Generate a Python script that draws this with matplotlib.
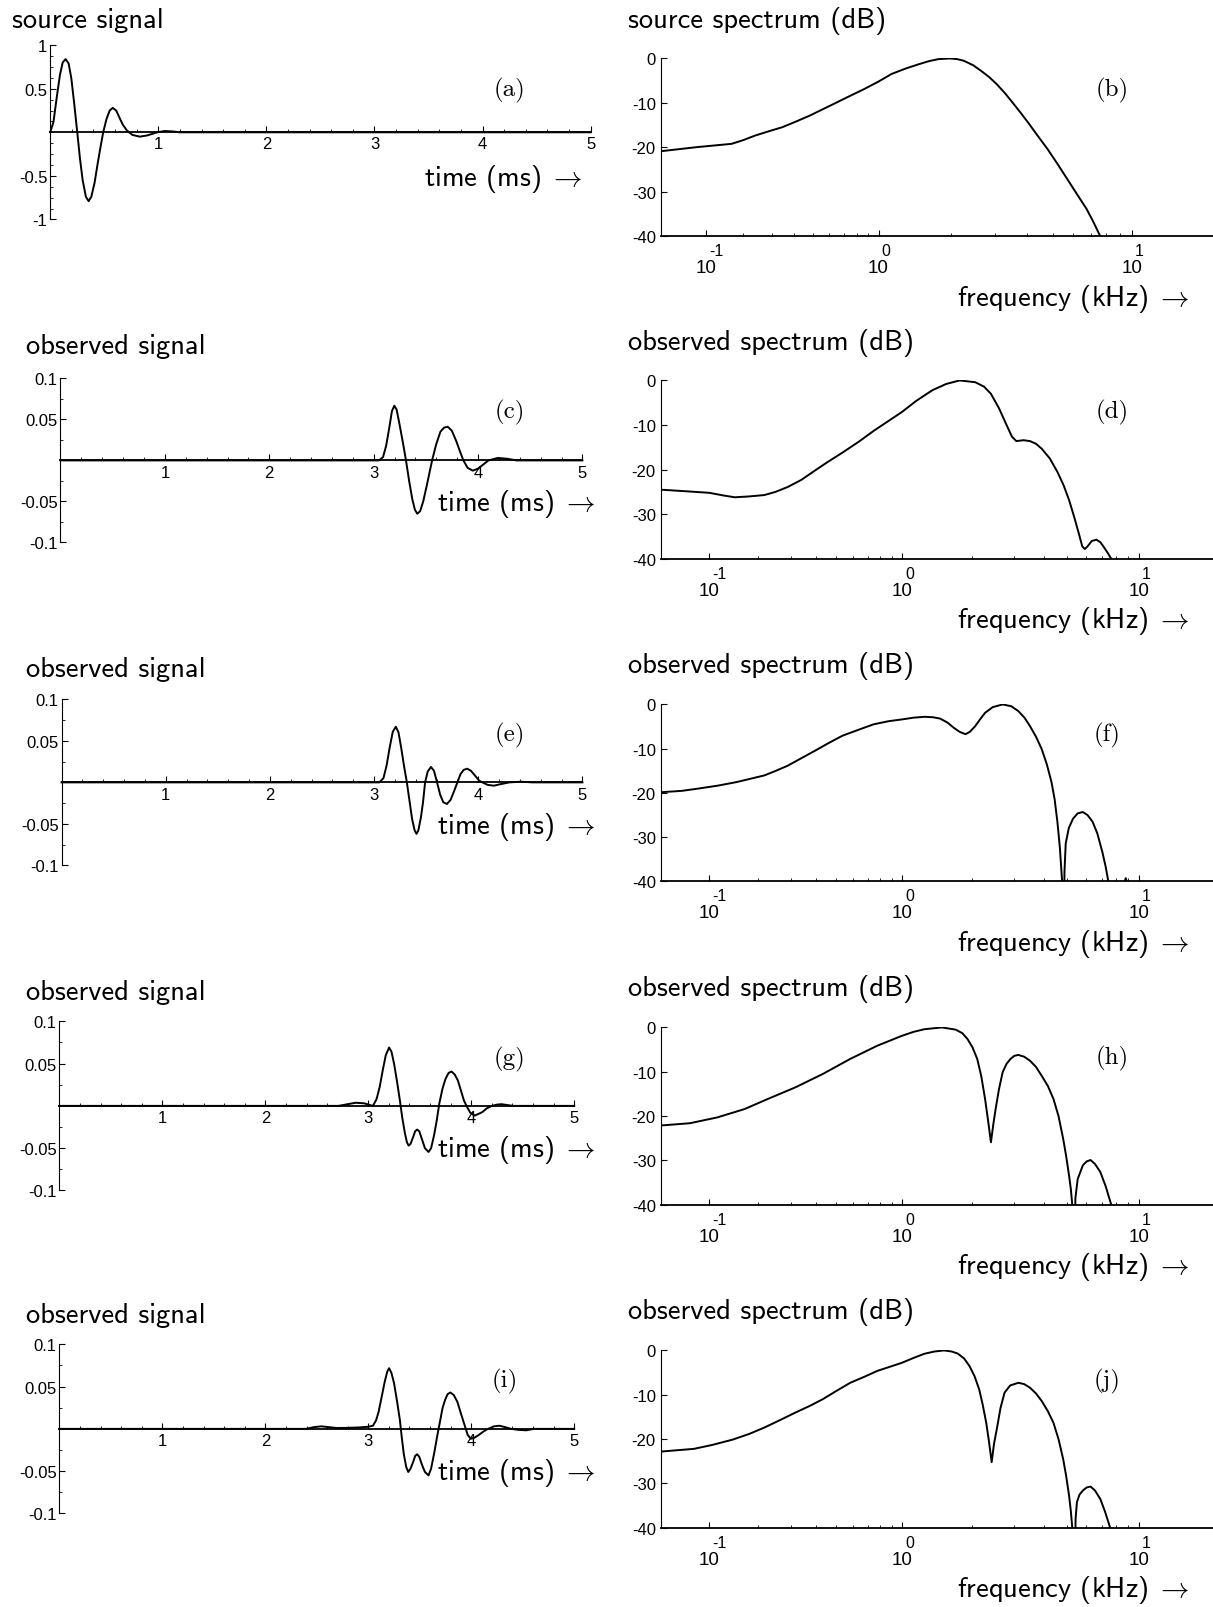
import numpy as np
import matplotlib.pyplot as plt
from matplotlib.ticker import MultipleLocator, FixedLocator

plt.rcParams['axes.unicode_minus'] = False
plt.rcParams['mathtext.fontset'] = 'cm'

# ── time signals (ms, amplitude) ───────────────────────
sig_a_t = [0, 0.03, 0.06, 0.09, 0.115, 0.142, 0.17, 0.195, 0.22, 0.25, 0.275, 0.30, 0.33,
           0.355, 0.38, 0.41, 0.44, 0.465, 0.49, 0.52, 0.55, 0.578, 0.61, 0.64, 0.67, 0.71,
           0.76, 0.83, 0.90, 0.99, 1.06, 1.13, 1.2, 5.0]
sig_a_v = [0, 0.12, 0.40, 0.66, 0.80, 0.84, 0.79, 0.62, 0.35, 0.0, -0.30, -0.55, -0.74,
           -0.79, -0.74, -0.58, -0.35, -0.17, 0.0, 0.15, 0.25, 0.28, 0.25, 0.17, 0.09, 0.02,
           -0.03, -0.05, -0.035, 0.0, 0.015, 0.01, 0, 0]

sig_c_t = [0, 3.05, 3.09, 3.12, 3.15, 3.175, 3.198, 3.22, 3.245, 3.28, 3.31, 3.34, 3.37,
           3.395, 3.418, 3.445, 3.475, 3.51, 3.56, 3.60, 3.64, 3.675, 3.711, 3.75, 3.79,
           3.83, 3.86, 3.90, 3.95, 4.0, 4.05, 4.1, 4.19, 4.28, 4.37, 5.0]
sig_c_v = [0, 0, 0.004, 0.018, 0.040, 0.060, 0.0667, 0.062, 0.046, 0.022, 0.0, -0.025, -0.047,
           -0.060, -0.065, -0.062, -0.050, -0.030, 0.0, 0.020, 0.035, 0.040, 0.041, 0.036, 0.024,
           0.010, 0.0, -0.009, -0.0125, -0.010, -0.005, 0.0, 0.003, 0.002, 0, 0]

sig_e_t = [0, 3.05, 3.09, 3.12, 3.15, 3.18, 3.209, 3.235, 3.26, 3.29, 3.315, 3.34, 3.365,
           3.39, 3.407, 3.425, 3.45, 3.47, 3.49, 3.515, 3.546, 3.575, 3.605, 3.635, 3.665,
           3.70, 3.735, 3.77, 3.80, 3.83, 3.86, 3.894, 3.93, 3.97, 4.01, 4.04, 4.09, 4.15,
           4.22, 4.3, 4.41, 4.52, 5.0]
sig_e_v = [0, 0, 0.005, 0.020, 0.042, 0.061, 0.067, 0.060, 0.042, 0.018, 0.0, -0.022, -0.044,
           -0.058, -0.062, -0.058, -0.042, -0.024, 0.0, 0.013, 0.0186, 0.014, 0.0, -0.015, -0.024,
           -0.026, -0.021, -0.010, 0.0, 0.010, 0.015, 0.0165, 0.014, 0.008, 0.002, 0.0, -0.003, -0.004,
           -0.002, 0.0, 0.0008, 0, 0]

sig_g_t = [0, 2.71, 2.80, 2.878, 2.96, 3.045, 3.08, 3.11, 3.14, 3.17, 3.202, 3.225, 3.25,
           3.28, 3.306, 3.33, 3.355, 3.375, 3.392, 3.41, 3.435, 3.455, 3.474, 3.495, 3.52,
           3.55, 3.585, 3.61, 3.64, 3.665, 3.69, 3.72, 3.75, 3.78, 3.809, 3.84, 3.87, 3.90,
           3.93, 3.958, 3.99, 4.032, 4.07, 4.107, 4.15, 4.2, 4.25, 4.293, 4.35, 4.405, 5.0]
sig_g_v = [0, 0, 0.002, 0.0037, 0.003, 0.0, 0.008, 0.022, 0.042, 0.060, 0.069, 0.064, 0.050,
           0.028, 0.007, -0.014, -0.032, -0.043, -0.047, -0.045, -0.037, -0.030, -0.028, -0.030, -0.039,
           -0.050, -0.0545, -0.050, -0.034, -0.017, 0.003, 0.020, 0.032, 0.039, 0.0406, 0.037, 0.030, 0.018,
           0.006, -0.001, -0.008, -0.0115, -0.0095, -0.0074, -0.003, 0.0, 0.0015, 0.002, 0.001, 0, 0]

sig_i_t = [0, 2.394, 2.47, 2.543, 2.62, 2.692, 2.8, 2.915, 3.0, 3.045, 3.075, 3.10, 3.13,
           3.16, 3.185, 3.202, 3.225, 3.25, 3.28, 3.306, 3.325, 3.345, 3.368, 3.388, 3.41,
           3.436, 3.455, 3.474, 3.495, 3.52, 3.55, 3.585, 3.61, 3.641, 3.67, 3.697, 3.72,
           3.745, 3.77, 3.797, 3.83, 3.865, 3.90, 3.939, 3.965, 3.995, 4.03, 4.07, 4.12,
           4.163, 4.22, 4.274, 4.33, 4.386, 4.46, 4.535, 4.609, 5.0]
sig_i_v = [0, 0, 0.002, 0.003, 0.002, 0.001, 0.0012, 0.0017, 0.0025, 0.0037, 0.010, 0.020, 0.038,
           0.056, 0.068, 0.0717, 0.066, 0.054, 0.032, 0.011, -0.010, -0.030, -0.045, -0.051, -0.047,
           -0.039, -0.032, -0.030, -0.033, -0.042, -0.051, -0.055, -0.047, -0.028, -0.008, 0.009, 0.024,
           0.034, 0.041, 0.043, 0.040, 0.032, 0.018, 0.003, -0.007, -0.0117, -0.0105, -0.0075, -0.003,
           0.0, 0.003, 0.0037, 0.002, 0, -0.0012, -0.0017, 0, 0]

# ── spectra (kHz, dB) ──────────────────────────────────
spec_b_f = [0.0145, 0.0785, 0.1647, 0.20, 0.238, 0.29, 0.345, 0.41, 0.48, 0.56, 0.65, 0.75,
            0.865, 1.0, 1.137, 1.3, 1.479, 1.63, 1.778, 1.982, 2.12, 2.248, 2.45, 2.64, 2.84,
            3.04, 3.27, 3.50, 3.75, 4.02, 4.38, 4.78, 5.2, 5.68, 6.2, 6.74, 7.15, 7.59, 9.0]
spec_b_db = [-20.9, -20.0, -19.25, -18.4, -17.4, -16.4, -15.5, -14.2, -12.9, -11.4, -9.9, -8.4,
             -6.9, -5.2, -3.5, -2.3, -1.3, -0.6, -0.15, 0.0, -0.15, -0.5, -1.5, -2.8, -4.2,
             -5.8, -7.8, -9.9, -12.1, -14.4, -17.4, -20.4, -23.6, -27.1, -30.6, -33.9, -36.8, -40.0, -46.0]

spec_d_f = [0.0365, 0.07, 0.1, 0.125, 0.147, 0.18, 0.218, 0.25, 0.29, 0.34, 0.397, 0.46,
            0.536, 0.64, 0.746, 0.995, 1.15, 1.352, 1.55, 1.771, 2.065, 2.25, 2.406, 2.6,
            2.80, 2.95, 3.077, 3.3, 3.51, 3.72, 3.93, 4.25, 4.57, 4.85, 5.11, 5.36, 5.61,
            5.8, 5.94, 6.1, 6.35, 6.64, 6.9, 7.155, 7.4, 7.65, 8.0]
spec_d_db = [-24.5, -24.9, -25.2, -25.8, -26.2, -26.0, -25.7, -25.0, -23.9, -22.3, -20.2, -18.2,
             -16.2, -13.7, -11.3, -7.1, -4.6, -2.2, -0.8, 0.0, -0.4, -1.4, -3.0, -6.2,
             -10.0, -12.6, -13.6, -13.4, -13.6, -14.2, -15.3, -17.5, -20.5, -23.5, -26.8, -30.5, -34.3,
             -37.2, -37.8, -37.2, -36.0, -35.7, -36.3, -37.5, -38.7, -40.0, -45.0]

spec_f_f = [0.0365, 0.06, 0.0817, 0.115, 0.151, 0.18, 0.218, 0.25, 0.29, 0.34, 0.397, 0.46,
            0.536, 0.64, 0.746, 0.87, 0.995, 1.12, 1.25, 1.36, 1.46, 1.57, 1.673, 1.77, 1.877,
            1.96, 2.065, 2.17, 2.272, 2.45, 2.696, 2.93, 3.137, 3.33, 3.51, 3.72, 3.93, 4.13,
            4.318, 4.45, 4.57, 4.68, 4.78, 4.86, 4.89, 4.95, 5.1, 5.31, 5.55, 5.83, 6.1, 6.40,
            6.7, 7.02, 7.25, 7.43, 7.9, 8.6, 8.78, 8.95, 9.5]
spec_f_db = [-19.9, -19.6, -19.1, -18.4, -17.6, -16.9, -16.1, -15.1, -13.9, -12.2, -10.5, -8.8,
             -7.1, -5.7, -4.5, -3.8, -3.4, -3.0, -2.8, -2.9, -3.2, -4.1, -5.3, -6.2, -6.75,
             -6.2, -4.9, -3.3, -1.9, -0.6, 0.0, -0.4, -1.5, -3.0, -4.9, -7.3, -10.1, -13.6,
             -17.6, -21.5, -26.6, -32.5, -40.0, -60.0, -38.0, -31.5, -28.0, -25.9, -24.7, -24.4, -25.1, -26.6,
             -29.3, -33.4, -36.8, -40.0, -55.0, -41.0, -39.4, -41.0, -60.0]

spec_h_f = [0.0365, 0.0707, 0.113, 0.1685, 0.2287, 0.318, 0.433, 0.583, 0.776, 0.995, 1.12,
            1.25, 1.489, 1.705, 1.82, 1.913, 2.01, 2.105, 2.19, 2.272, 2.34, 2.406, 2.46, 2.518,
            2.60, 2.696, 2.80, 2.909, 3.02, 3.137, 3.32, 3.51, 3.72, 3.93, 4.17, 4.40, 4.62,
            4.83, 4.97, 5.11, 5.20, 5.27, 5.37, 5.43, 5.55, 5.83, 6.05, 6.28, 6.55, 6.89, 7.25,
            7.65, 8.0]
spec_h_db = [-22.1, -21.6, -20.3, -18.4, -16.1, -13.5, -10.5, -7.1, -4.1, -1.9, -1.0,
             -0.4, 0.0, -0.5, -1.3, -2.6, -4.5, -7.1, -11.0, -16.1, -21.0, -25.9, -22.0, -18.4,
             -14.0, -10.1, -8.2, -7.1, -6.4, -6.2, -6.6, -7.5, -8.9, -10.9, -13.2, -16.1, -20.0,
             -25.1, -29.0, -33.4, -36.5, -40.0, -60.0, -38.5, -34.2, -31.1, -30.2, -29.9, -30.8, -32.6, -35.8,
             -40.0, -50.0]

spec_j_f = [0.0365, 0.0761, 0.105, 0.143, 0.18, 0.218, 0.265, 0.318, 0.375, 0.433, 0.50,
            0.583, 0.68, 0.776, 0.88, 0.995, 1.12, 1.25, 1.38, 1.518, 1.64, 1.738, 1.85, 1.95,
            2.05, 2.146, 2.22, 2.298, 2.36, 2.423, 2.48, 2.546, 2.64, 2.747, 2.9, 3.137, 3.32,
            3.51, 3.72, 3.93, 4.17, 4.40, 4.62, 4.83, 4.97, 5.11, 5.20, 5.27, 5.38, 5.44, 5.51,
            5.65, 5.83, 6.05, 6.28, 6.55, 6.89, 7.2, 7.57, 8.0]
spec_j_db = [-22.8, -22.2, -21.3, -20.1, -18.8, -17.4, -15.7, -14.0, -12.5, -11.0, -9.2,
             -7.3, -5.9, -4.6, -3.7, -2.8, -1.7, -0.75, -0.25, 0.0, -0.25, -0.7, -1.8, -3.5,
             -5.8, -8.8, -12.2, -16.3, -20.5, -25.2, -21.0, -17.8, -13.0, -9.5, -7.9, -7.3, -7.6,
             -8.4, -9.7, -11.4, -13.7, -16.3, -20.0, -24.5, -28.3, -32.7, -36.3, -40.0, -60.0, -38.0, -34.2,
             -32.5, -31.6, -30.9, -30.7, -31.6, -33.5, -36.3, -40.0, -50.0]

W, H = 1213, 1608
S = 1213 / 1183   # layout below was measured on a 1183-wide view of the target
fig = plt.figure(figsize=(W / 100, H / 100), dpi=100)

TITLE_FONT = ['cmss10', 'DejaVu Sans']
TICK_FONT = 'Liberation Sans'
TITLE_SIZE = 20.5
ARROW = r'$\;\rightarrow$'


def px_axes(x0, x1, ytop, ybot):
    return fig.add_axes([x0 * S / W, 1 - ybot * S / H, (x1 - x0) * S / W, (ybot - ytop) * S / H])


def px_text(x, y, s, **kw):
    fig.text(x * S / W, 1 - y * S / H, s, **kw)


def signal_panel(t, v, box, ylim, yticks, ylabels, yminor, tag, title, title_xy, xlab_xy, tag_xy):
    ax = px_axes(*box)
    ax.plot(t, v, color='black', lw=1.4, clip_on=False)
    ax.set_xlim(0, 5)
    ax.set_ylim(*ylim)
    for s in ['top', 'right']:
        ax.spines[s].set_visible(False)
    ax.spines['bottom'].set_position(('data', 0))
    ax.spines['bottom'].set_linewidth(1.3)
    ax.spines['left'].set_linewidth(0.8)
    ax.set_xticks([1, 2, 3, 4, 5])
    ax.set_xticklabels(['1', '2', '3', '4', '5'], fontfamily=TICK_FONT, fontsize=12)
    ax.xaxis.set_minor_locator(MultipleLocator(0.2))
    ax.set_yticks(yticks)
    ax.set_yticklabels(ylabels, fontfamily=TICK_FONT, fontsize=12)
    ax.yaxis.set_minor_locator(MultipleLocator(yminor))
    ax.tick_params(which='major', direction='in', length=4, width=0.8, pad=3)
    ax.tick_params(which='minor', direction='in', length=2.5, width=0.6)
    ax.tick_params(axis='y', which='major', pad=2)
    px_text(*title_xy, title, family=TITLE_FONT, fontsize=TITLE_SIZE, va='center', ha='left')
    px_text(*xlab_xy, 'time (ms)' + ARROW, family=TITLE_FONT, fontsize=TITLE_SIZE,
            va='center', ha='right')
    px_text(*tag_xy, tag, family='cmr10', fontsize=18, va='center', ha='center')
    return ax


def spectrum_panel(f, db, box, c, xlim, tag, title, title_xy, xlab_xy, tag_xy):
    ax = px_axes(*box)
    ax.set_xscale('function', functions=(lambda x: np.log10(np.maximum(x + c, 1e-6)),
                                         lambda y: 10 ** y - c))
    ax.plot(f, db, color='black', lw=1.4)
    ax.set_xlim(*xlim)
    ax.set_ylim(-40, 0)
    for s in ['top', 'right']:
        ax.spines[s].set_visible(False)
    ax.spines['bottom'].set_linewidth(1.3)
    ax.spines['left'].set_linewidth(0.8)
    ax.xaxis.set_major_locator(FixedLocator([0.1, 1, 10]))
    ax.set_xticklabels(['10', '10', '10'], fontfamily=TICK_FONT, fontsize=13.5)
    for f0, e in zip([0.1, 1, 10], ['-1', '0', '1']):
        ax.annotate(e, xy=(f0, 0), xycoords=('data', 'axes fraction'), xytext=(2.0, -10.5),
                    textcoords='offset points', ha='left', va='center',
                    fontfamily=TICK_FONT, fontsize=11.5)
    minor = [k * 0.1 for k in range(2, 10)] + [float(k) for k in range(2, 10)]
    ax.xaxis.set_minor_locator(FixedLocator(minor))
    ax.set_yticks([0, -10, -20, -30, -40])
    ax.set_yticklabels(['0', '-10', '-20', '-30', '-40'], fontfamily=TICK_FONT, fontsize=12)
    ax.tick_params(which='major', direction='in', length=4, width=0.8)
    ax.tick_params(which='minor', direction='in', length=2.5, width=0.6)
    ax.tick_params(axis='x', which='major', pad=17)
    ax.tick_params(axis='y', which='major', pad=4)
    px_text(*title_xy, title, family=TITLE_FONT, fontsize=TITLE_SIZE, va='center', ha='left')
    px_text(*xlab_xy, 'frequency (kHz)' + ARROW, family=TITLE_FONT, fontsize=TITLE_SIZE,
            va='center', ha='right')
    px_text(*tag_xy, tag, family='cmr10', fontsize=18, va='center', ha='center')
    return ax


# ── left column: signals ──────────────────────────────
signal_panel(sig_a_t, sig_a_v, (49, 576, 45, 215), (-1, 1), [-1, -0.5, 0.5, 1],
             ['-1', '-0.5', '0.5', '1'], 0.125, '(a)', 'source signal',
             (12, 20), (568, 175), (497, 88))
small_ticks = [-0.1, -0.05, 0.05, 0.1]
small_labels = ['-0.1', '-0.05', '0.05', '0.1']
signal_panel(sig_c_t, sig_c_v, (59, 568, 370, 530), (-0.1, 0.1), small_ticks, small_labels,
             0.025, '(c)', 'observed signal', (25, 338), (580, 492), (497, 402))
signal_panel(sig_e_t, sig_e_v, (60, 568, 683, 845), (-0.1, 0.1), small_ticks, small_labels,
             0.025, '(e)', 'observed signal', (25, 653), (580, 807), (497, 717))
signal_panel(sig_g_t, sig_g_v, (58, 560, 997, 1162), (-0.1, 0.1), small_ticks, small_labels,
             0.025, '(g)', 'observed signal', (25, 968), (580, 1122), (497, 1033))
signal_panel(sig_i_t, sig_i_v, (58, 560, 1312, 1477), (-0.1, 0.1), small_ticks, small_labels,
             0.025, '(i)', 'observed signal', (25, 1283), (580, 1437), (492, 1347))

# ── right column: spectra ─────────────────────────────
spectrum_panel(spec_b_f, spec_b_db, (645, 1183, 58, 231), 0.168, (0.0145, 20.2), '(b)',
               'source spectrum (dB)', (612, 20), (1160, 292), (1085, 88))
spectrum_panel(spec_d_f, spec_d_db, (645, 1183, 372, 546), 0.074, (0.0365, 20.1), '(d)',
               'observed spectrum (dB)', (612, 335), (1160, 606), (1085, 402))
spectrum_panel(spec_f_f, spec_f_db, (645, 1183, 688, 860), 0.074, (0.0365, 20.1), '(f)',
               'observed spectrum (dB)', (612, 650), (1160, 921), (1080, 717))
spectrum_panel(spec_h_f, spec_h_db, (645, 1183, 1003, 1176), 0.074, (0.0365, 20.1), '(h)',
               'observed spectrum (dB)', (612, 965), (1160, 1236), (1085, 1032))
spectrum_panel(spec_j_f, spec_j_db, (645, 1183, 1318, 1491), 0.074, (0.0365, 20.1), '(j)',
               'observed spectrum (dB)', (612, 1280), (1160, 1551), (1080, 1347))

plt.savefig('out.png', dpi=100)
